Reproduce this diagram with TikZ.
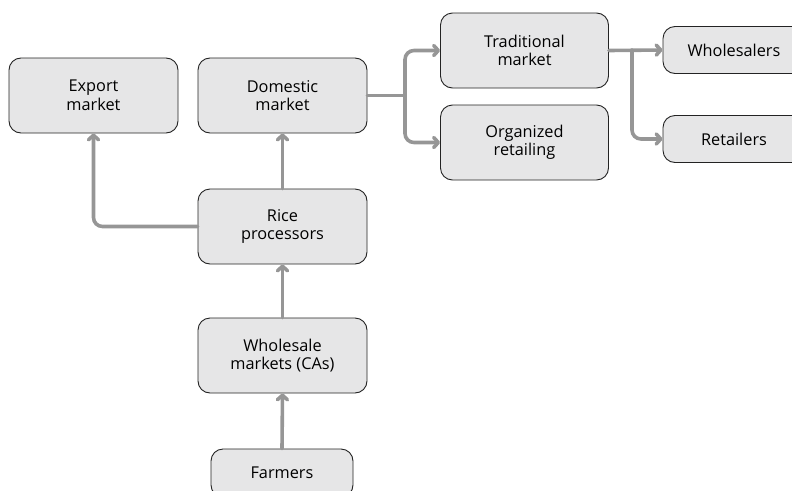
\documentclass[tikz,border=0pt]{standalone}
\usepackage{fontspec}
\setmainfont{Open Sans}
\usetikzlibrary{arrows.meta}
\definecolor{boxfill}{RGB}{230,230,231}
\definecolor{boxline}{RGB}{35,35,35}
\definecolor{flow}{RGB}{150,150,150}
\begin{document}
\begin{tikzpicture}[x=1pt,y=-1pt,
  box/.style={draw=boxline, line width=0.9pt, fill=boxfill, rounded corners=12pt,
    align=center, inner sep=0pt, font=\fontsize{16.3}{18.5}\selectfont},
  bigbox/.style={box, minimum width=169pt, minimum height=75pt},
  smallbox/.style={box, minimum width=142pt, minimum height=47pt},
  flowline/.style={draw=flow, line width=3.6pt, rounded corners=9pt, line cap=round},
  arr/.style={flowline, -{Straight Barb[length=4.5pt,width=10pt,line cap=round,line join=round]}}]
\useasboundingbox (0,0) rectangle (792,490);
\clip (0,0) rectangle (792,490);

% nodes
\node[bigbox] (exp) at (93.5,95.5) {Export\\market};
\node[bigbox] (dom) at (282.5,95.5) {Domestic\\market};
\node[bigbox, minimum width=168pt] (trad) at (524.5,50.5) {Traditional\\market};
\node[bigbox, minimum width=168pt] (org) at (524.5,142.5) {Organized\\retailing};
\node[smallbox] (whs) at (734,50) {Wholesalers};
\node[smallbox] (ret) at (734,139) {Retailers};
\node[bigbox] (rice) at (282.5,226.5) {Rice\\processors};
\node[bigbox] (wm) at (282.5,355.5) {Wholesale\\markets (CAs)};
\node[smallbox, minimum height=48pt] (farm) at (282,473) {Farmers};

% branch points
\coordinate (s1) at (405,95.5);
\coordinate (s2) at (632,50);

% connectors
\draw[arr] (farm.north) -- (wm.south);
\draw[arr] (wm.north) -- (rice.south);
\draw[arr] (rice.north) -- (dom.south);
\draw[arr] (rice.west) -| (exp.south);
\draw[flowline] (dom.east) -- (s1);
\draw[arr] (s1) |- (trad.west);
\draw[arr] (s1) |- (org.west);
\draw[arr] (trad.east) -- (whs.west);
\draw[arr] (s2) |- (ret.west);
\end{tikzpicture}
\end{document}
